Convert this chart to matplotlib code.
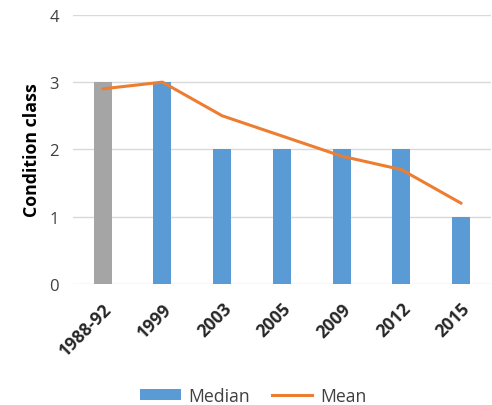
import matplotlib
matplotlib.use("Agg")
import matplotlib.pyplot as plt
from matplotlib.patches import Patch
from matplotlib.lines import Line2D

categories = ["1988-92", "1999", "2003", "2005", "2009", "2012", "2015"]
median = [3, 3, 2, 2, 2, 2, 1]
mean = [2.9, 3.0, 2.5, 2.2, 1.9, 1.7, 1.2]
bar_colors = ["#A5A5A5", "#5B9BD5", "#5B9BD5", "#5B9BD5", "#5B9BD5", "#5B9BD5", "#5B9BD5"]

plt.rcParams["font.family"] = ["Open Sans", "DejaVu Sans"]

fig = plt.figure(figsize=(4.92, 4.06), dpi=100)
ax = fig.add_axes([0.148, 0.298, 0.850, 0.663])

x = list(range(len(categories)))
ax.bar(x, median, width=0.3, color=bar_colors, zorder=2)
ax.plot(x, mean, color="#ED7D31", linewidth=2.2, zorder=3, solid_capstyle="round")

ax.set_xlim(-0.5, len(categories) - 0.5)
ax.set_ylim(0, 4)
ax.set_yticks([0, 1, 2, 3, 4])
ax.yaxis.grid(True, color="#D9D9D9", linewidth=1, zorder=0)
ax.set_axisbelow(True)
for s in ax.spines.values():
    s.set_visible(False)
ax.tick_params(axis="both", length=0)
ax.tick_params(axis="y", labelsize=12, pad=10, colors="#404040")
ax.set_xticks(x)
ax.set_xticklabels(categories, rotation=45, ha="right", rotation_mode="anchor",
                   fontsize=12.6, fontweight="bold", color="#262626")
ax.tick_params(axis="x", pad=11)
ax.set_ylabel("Condition class", fontsize=12.8, fontweight="bold", color="#000000", labelpad=6)

handles = [Patch(facecolor="#5B9BD5", label="Median"),
           Line2D([0], [0], color="#ED7D31", linewidth=2.2, label="Mean")]
fig.legend(handles=handles, loc="center", bbox_to_anchor=(0.515, 0.022), ncol=2,
           frameon=False, fontsize=12.7, handlelength=2.3, handleheight=0.6,
           handletextpad=0.45, columnspacing=1.2, labelcolor="#404040")

fig.savefig("out.png", dpi=100)
